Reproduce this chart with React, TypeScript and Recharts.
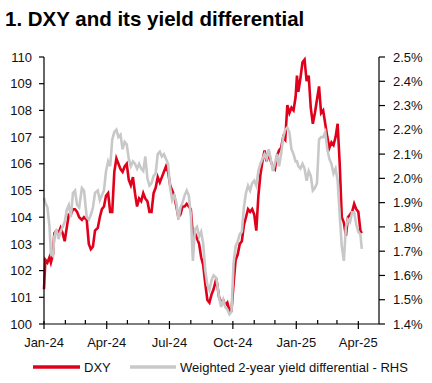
import { Line, LineChart, XAxis, YAxis } from 'recharts';

const dates = [
  '2024-01-01', '2024-01-03', '2024-01-06', '2024-01-09', '2024-01-11', '2024-01-14', '2024-01-16', '2024-01-19',
  '2024-01-22', '2024-01-25', '2024-01-28', '2024-01-31', '2024-02-03', '2024-02-06', '2024-02-09', '2024-02-12',
  '2024-02-15', '2024-02-18', '2024-02-21', '2024-02-25', '2024-02-28', '2024-03-03', '2024-03-06', '2024-03-09',
  '2024-03-12', '2024-03-15', '2024-03-19', '2024-03-22', '2024-03-25', '2024-03-28', '2024-03-31', '2024-04-03',
  '2024-04-06', '2024-04-09', '2024-04-12', '2024-04-15', '2024-04-18', '2024-04-21', '2024-04-24', '2024-04-27',
  '2024-04-30', '2024-05-03', '2024-05-06', '2024-05-09', '2024-05-12', '2024-05-15', '2024-05-18', '2024-05-21',
  '2024-05-24', '2024-05-27', '2024-05-30', '2024-06-02', '2024-06-05', '2024-06-08', '2024-06-11', '2024-06-14',
  '2024-06-17', '2024-06-20', '2024-06-23', '2024-06-26', '2024-06-29', '2024-07-02', '2024-07-05', '2024-07-08',
  '2024-07-11', '2024-07-14', '2024-07-17', '2024-07-20', '2024-07-23', '2024-07-26', '2024-07-29', '2024-08-01',
  '2024-08-04', '2024-08-07', '2024-08-10', '2024-08-13', '2024-08-16', '2024-08-19', '2024-08-22', '2024-08-25',
  '2024-08-28', '2024-08-31', '2024-09-03', '2024-09-07', '2024-09-11', '2024-09-14', '2024-09-17', '2024-09-20',
  '2024-09-23', '2024-09-26', '2024-09-29', '2024-10-02', '2024-10-05', '2024-10-08', '2024-10-11', '2024-10-14',
  '2024-10-17', '2024-10-20', '2024-10-23', '2024-10-26', '2024-10-29', '2024-11-01', '2024-11-04', '2024-11-07',
  '2024-11-10', '2024-11-13', '2024-11-16', '2024-11-19', '2024-11-22', '2024-11-25', '2024-11-28', '2024-12-01',
  '2024-12-04', '2024-12-07', '2024-12-10', '2024-12-13', '2024-12-16', '2024-12-19', '2024-12-22', '2024-12-25',
  '2024-12-28', '2024-12-31', '2025-01-02', '2025-01-04', '2025-01-07', '2025-01-10', '2025-01-13', '2025-01-16',
  '2025-01-19', '2025-01-22', '2025-01-25', '2025-01-28', '2025-01-31', '2025-02-03', '2025-02-06', '2025-02-09',
  '2025-02-12', '2025-02-15', '2025-02-18', '2025-02-21', '2025-02-24', '2025-02-27', '2025-03-02', '2025-03-05',
  '2025-03-08', '2025-03-11', '2025-03-14', '2025-03-17', '2025-03-20', '2025-03-23', '2025-03-26', '2025-03-29',
  '2025-04-01', '2025-04-04', '2025-04-06',
];

const dxy = [
  101.3, 102.4, 102.3, 102.5, 102.3, 102.6, 103.4, 103.5,
  103.4, 103.6, 103.4, 103.1, 103.6, 104.1, 104.1, 104.3,
  104.3, 104.2, 104.0, 103.9, 104.0, 103.9, 103.0, 102.8,
  102.9, 103.5, 103.6, 104.0, 104.3, 104.4, 104.8, 104.9,
  104.2, 104.2, 105.7, 106.2, 106.0, 105.8, 105.7, 105.9,
  106.0, 105.4, 105.2, 105.5, 104.9, 104.4, 104.7, 104.6,
  104.9, 104.7, 104.6, 104.2, 104.2, 104.9, 105.1, 105.5,
  105.3, 105.5, 105.7, 105.9, 105.7, 105.2, 105.0, 104.8,
  104.4, 104.0, 104.1, 104.4, 104.4, 104.5, 104.4, 104.3,
  103.3, 103.4, 103.2, 103.0, 102.5, 102.2, 101.5, 100.9,
  100.8, 101.1, 101.3, 101.7, 101.0, 100.8, 100.9, 100.7,
  100.8, 100.5, 100.5, 101.5, 102.4, 102.6, 103.0, 103.1,
  103.7, 104.0, 104.3, 104.2, 104.3, 104.1, 103.5, 104.8,
  105.6, 106.1, 106.5, 106.1, 106.4, 106.1, 105.9, 105.8,
  106.3, 106.5, 106.6, 107.0, 106.9, 108.2, 107.9, 108.1,
  108.0, 108.5, 109.3, 108.7, 109.2, 109.8, 109.9, 109.1,
  109.3, 108.1, 107.5, 107.9, 108.4, 108.9, 107.9, 108.0,
  107.5, 107.0, 106.6, 106.8, 106.7, 107.0, 107.5, 106.0,
  104.0, 103.8, 103.3, 104.0, 104.1, 104.2, 104.5, 104.3,
  104.2, 103.5, 103.4,
];

const yieldDiff = [
  1.92, 1.9, 1.88, 1.8, 1.69, 1.68, 1.76, 1.79,
  1.75, 1.78, 1.8, 1.82, 1.87, 1.89, 1.84, 1.94,
  1.95, 1.89, 1.88, 1.96, 1.95, 1.84, 1.83, 1.85,
  1.88, 1.94, 1.95, 1.91, 1.93, 1.95, 2.03, 2.07,
  2.05, 2.16, 2.19, 2.2, 2.17, 2.18, 2.12, 2.15,
  2.14, 2.08, 2.05, 2.07, 2.06, 2.04, 2.06, 2.04,
  2.03, 2.09, 2.0, 1.97, 1.98, 2.01, 2.02, 2.1,
  2.11, 2.09, 2.1, 2.08, 2.06, 1.96, 1.91, 1.93,
  1.9, 1.83, 1.88, 1.9, 1.93, 1.95, 1.93, 1.85,
  1.66, 1.79, 1.8, 1.76, 1.78, 1.73, 1.62, 1.56,
  1.54, 1.58, 1.6, 1.59, 1.51, 1.47, 1.5, 1.47,
  1.46, 1.44, 1.45, 1.65, 1.72, 1.74, 1.77, 1.78,
  1.88, 1.94, 1.97, 1.95, 1.98, 1.99, 1.97, 2.03,
  2.06, 2.08, 2.1, 2.08, 2.12, 2.08, 2.03, 2.06,
  2.1, 2.05, 2.1, 2.17, 2.2, 2.21, 2.19, 2.12,
  2.1, 2.07, 2.07, 2.05, 2.04, 2.06, 2.04, 1.99,
  2.03, 2.01, 1.95, 1.96, 1.98, 2.16, 2.17, 2.17,
  2.19, 2.12, 2.08, 2.06, 2.02, 2.04, 1.99, 1.85,
  1.72, 1.66, 1.8, 1.83, 1.82, 1.86, 1.86, 1.81,
  1.78, 1.77, 1.71,
];

const monthTicks = [
  '2024-01-01', '2024-02-01', '2024-03-01', '2024-04-01', '2024-05-01', '2024-06-01', '2024-07-01', '2024-08-01',
  '2024-09-01', '2024-10-01', '2024-11-01', '2024-12-01', '2025-01-01', '2025-02-01', '2025-03-01', '2025-04-01',
];
const tickLabels = ['Jan-24', 'Apr-24', 'Jul-24', 'Oct-24', 'Jan-25', 'Apr-25'];
const lhsTicks = [100, 101, 102, 103, 104, 105, 106, 107, 108, 109, 110];
const rhsTicks = [1.4, 1.5, 1.6, 1.7, 1.8, 1.9, 2.0, 2.1, 2.2, 2.3, 2.4, 2.5];

const ts = (d: string) => Date.parse(d + 'T00:00:00Z');
const data = dates.map((d, i) => ({ t: ts(d), dxy: dxy[i], yd: yieldDiff[i] }));
const tickTimes = monthTicks.map(ts);

const FONT = '"Liberation Sans", Arial, sans-serif';
const RED = '#e0001b';
const GREY = '#c8c8c8';

// monthly ticks; quarter months get a longer tick crossing the axis plus a label
const MonthTick = (props: any) => {
  const { x, y, payload } = props;
  const i = tickTimes.indexOf(payload.value);
  const major = i % 3 === 0;
  return (
    <g>
      {major ? (
        <line x1={x} x2={x} y1={y - 3} y2={y + 5} stroke="#000" strokeWidth={1.2} />
      ) : (
        <line x1={x} x2={x} y1={y - 4} y2={y} stroke="#000" strokeWidth={1.2} />
      )}
      {major && (
        <text x={x} y={y + 23} textAnchor="middle" fontSize={13} fontFamily={FONT} fill="#111">
          {tickLabels[i / 3]}
        </text>
      )}
    </g>
  );
};

export default function App() {
  const tickStyle = { fontSize: 13, fontFamily: FONT, fill: '#111' };
  return (
    <div style={{ position: 'absolute', left: 0, top: 0, width: 432, height: 383, background: '#fff' }}>
      <div
        style={{
          position: 'absolute',
          left: 5,
          top: 9,
          fontFamily: FONT,
          fontWeight: 'bold',
          fontSize: 20.5,
          lineHeight: '20px',
          color: '#000',
          whiteSpace: 'nowrap',
        }}>
        1. DXY and its yield differential
      </div>
      <LineChart width={432} height={383} data={data} margin={{ top: 57, right: 0, left: 0, bottom: 0 }}>
        <XAxis
          dataKey="t"
          type="number"
          scale="time"
          domain={[ts('2024-01-01'), ts('2025-05-01')]}
          ticks={tickTimes}
          interval={0}
          height={59}
          tickLine={false}
          tickSize={0}
          tickMargin={0}
          axisLine={{ stroke: '#000', strokeWidth: 1.2 }}
          tick={<MonthTick />}
        />
        <YAxis
          yAxisId="l"
          width={44}
          domain={[100, 110]}
          ticks={lhsTicks}
          interval={0}
          tickSize={5}
          tickMargin={7}
          axisLine={{ stroke: '#000', strokeWidth: 1.2 }}
          tickLine={{ stroke: '#000', strokeWidth: 1.2 }}
          tick={tickStyle}
        />
        <YAxis
          yAxisId="r"
          orientation="right"
          width={53}
          domain={[1.4, 2.5]}
          ticks={rhsTicks}
          interval={0}
          tickSize={6}
          tickMargin={8}
          tickFormatter={(v: number) => v.toFixed(1) + '%'}
          axisLine={{ stroke: '#000', strokeWidth: 1.2 }}
          tickLine={{ stroke: '#000', strokeWidth: 1.2 }}
          tick={tickStyle}
        />
        <Line
          yAxisId="l"
          dataKey="dxy"
          name="DXY"
          type="linear"
          stroke={RED}
          strokeWidth={2.6}
          dot={false}
          isAnimationActive={false}
        />
        <Line
          yAxisId="r"
          dataKey="yd"
          name="Weighted 2-year yield differential - RHS"
          type="linear"
          stroke={GREY}
          strokeWidth={2.6}
          dot={false}
          isAnimationActive={false}
        />
      </LineChart>
      <svg style={{ position: 'absolute', left: 0, top: 355 }} width={432} height={25}>
        <line x1={33} x2={80} y1={12} y2={12} stroke={RED} strokeWidth={3.5} />
        <text x={84} y={16.7} fontSize={13} fontFamily={FONT} fill="#111">
          DXY
        </text>
        <line x1={130} x2={176} y1={12} y2={12} stroke={GREY} strokeWidth={3.5} />
        <text x={180} y={16.7} fontSize={13} fontFamily={FONT} fill="#111">
          Weighted 2-year yield differential - RHS
        </text>
      </svg>
    </div>
  );
}
